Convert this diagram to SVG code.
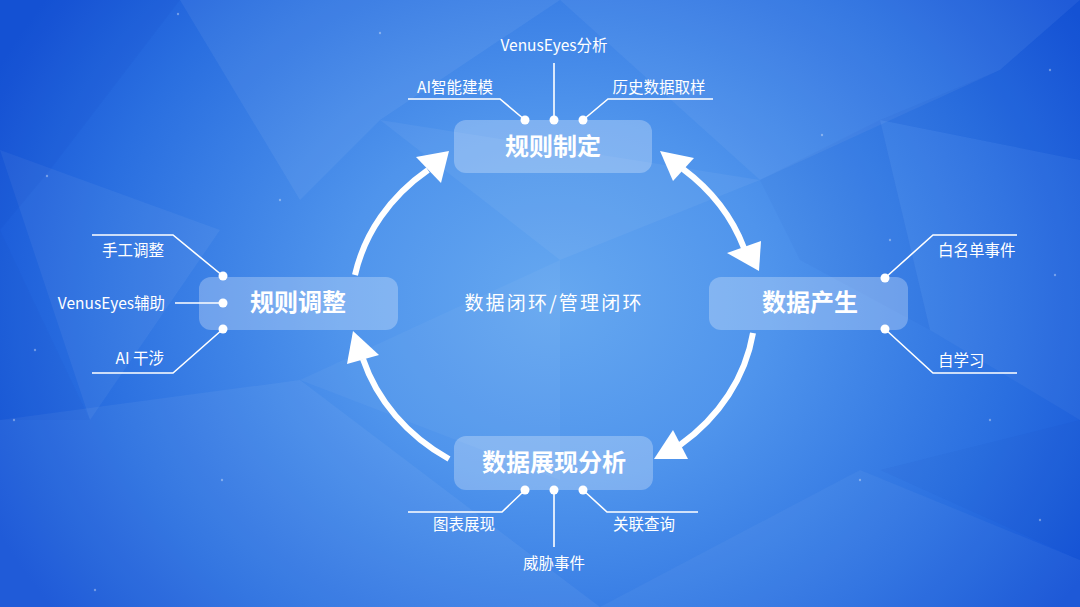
<svg xmlns="http://www.w3.org/2000/svg" width="1080" height="607" viewBox="0 0 1080 607">
<defs>
<radialGradient id="bg" cx="555" cy="300" r="620" gradientUnits="userSpaceOnUse" gradientTransform="translate(555 300) scale(1 0.85) translate(-555 -300)">
<stop offset="0" stop-color="#66a8f0"/>
<stop offset="0.35" stop-color="#4f94ec"/>
<stop offset="0.75" stop-color="#2a6fe0"/>
<stop offset="1" stop-color="#1553d6"/>
</radialGradient>
<style>
.node rect{fill:#ffffff;fill-opacity:0.27}
.title{font-family:"Noto Sans CJK SC","Noto Sans",sans-serif;font-size:24px;font-weight:bold;fill:#ffffff;text-anchor:middle}
.lbl{font-family:"Noto Sans CJK SC","Noto Sans",sans-serif;font-size:15.5px;fill:#ffffff}
.arc{fill:none;stroke:#ffffff;stroke-width:6}
.head{fill:#ffffff}
.lead{fill:none;stroke:#ffffff;stroke-width:1.6}
.dot{fill:#ffffff}
.poly{fill:#ffffff}
.dk{fill:#0a3fb8}
.sp{fill:#ffffff;fill-opacity:0.35}
</style>
</defs>

<g id="background">
<rect x="0" y="0" width="1080" height="607" fill="url(#bg)"/>
<polygon class="poly" fill-opacity="0.06" points="180,0 560,0 380,120 300,200"/>
<polygon class="poly" fill-opacity="0.05" points="560,0 1080,0 1000,70 760,180"/>
<polygon class="poly" fill-opacity="0.05" points="0,420 300,380 600,607 0,607"/>
<polygon class="poly" fill-opacity="0.04" points="600,607 860,470 1080,560 1080,607"/>
<polygon class="poly" fill-opacity="0.05" points="0,150 220,230 90,420"/>
<polygon class="poly" fill-opacity="0.04" points="880,120 1080,160 1080,420 930,330"/>
<polygon class="poly" fill-opacity="0.05" points="380,120 760,180 560,260"/>
<polygon class="poly" fill-opacity="0.04" points="300,380 560,260 560,480"/>
<polygon class="dk" fill-opacity="0.07" points="0,0 180,0 50,170 0,230"/>
<polygon class="dk" fill-opacity="0.06" points="1000,70 1080,0 1080,160 880,120"/>
<polygon class="dk" fill-opacity="0.05" points="880,470 1080,420 1080,560"/>
<polygon class="dk" fill-opacity="0.05" points="0,230 90,420 0,420"/>
<polygon class="dk" fill-opacity="0.04" points="760,180 880,120 930,330 800,260"/>
<circle class="sp" cx="178" cy="14" r="1.2"/>
<circle class="sp" cx="380" cy="33" r="1.2"/>
<circle class="sp" cx="47" cy="176" r="1.2"/>
<circle class="sp" cx="280" cy="200" r="1.2"/>
<circle class="sp" cx="335" cy="300" r="1.2"/>
<circle class="sp" cx="1050" cy="70" r="1.2"/>
<circle class="sp" cx="1055" cy="275" r="1.2"/>
<circle class="sp" cx="822" cy="135" r="1.2"/>
<circle class="sp" cx="990" cy="420" r="1.2"/>
<circle class="sp" cx="14" cy="420" r="1.2"/>
<circle class="sp" cx="95" cy="590" r="1.2"/>
<circle class="sp" cx="222" cy="480" r="1.2"/>
<circle class="sp" cx="860" cy="480" r="1.2"/>
<circle class="sp" cx="1040" cy="520" r="1.2"/>
<circle class="sp" cx="35" cy="350" r="1.2"/>
<circle class="sp" cx="890" cy="240" r="1.2"/>
</g>

<g id="connectors">
<path class="arc" d="M 355 275 A 203 178 0 0 1 428 170"/>
<polygon class="head" points="449,151 416,157 441,183"/>
<path class="arc" d="M 683 169 A 203 178 0 0 1 744 248"/>
<polygon class="head" points="660,151 694,158 673,181"/>
<polygon class="head" points="759,271 727,253 761,241"/>
<path class="arc" d="M 753 333 A 203 178 0 0 1 680 445"/>
<polygon class="head" points="654,459 688,459 673,430"/>
<path class="arc" d="M 449 459 A 203 178 0 0 1 363 359"/>
<polygon class="head" points="353,331 347,364 379,355"/>

<polyline class="lead" points="525,120 500,99 408,99"/>
<polyline class="lead" points="554,120 554,63"/>
<polyline class="lead" points="583,120 608,99 713,99"/>
<polyline class="lead" points="223,276 173,235 92,235"/>
<polyline class="lead" points="223,303 175,303"/>
<polyline class="lead" points="223,329 173,373 92,373"/>
<polyline class="lead" points="885,278 933,235 1017,235"/>
<polyline class="lead" points="885,329 933,373 1017,373"/>
<polyline class="lead" points="525,490 502,512 408,512"/>
<polyline class="lead" points="554,490 554,547"/>
<polyline class="lead" points="583,490 607,512 698,512"/>
<circle class="dot" cx="525" cy="120" r="4.5"/>
<circle class="dot" cx="554" cy="120" r="4.5"/>
<circle class="dot" cx="583" cy="120" r="4.5"/>
<circle class="dot" cx="223" cy="276" r="4.5"/>
<circle class="dot" cx="223" cy="303" r="4.5"/>
<circle class="dot" cx="223" cy="329" r="4.5"/>
<circle class="dot" cx="885" cy="278" r="4.5"/>
<circle class="dot" cx="885" cy="329" r="4.5"/>
<circle class="dot" cx="525" cy="490" r="4.5"/>
<circle class="dot" cx="554" cy="490" r="4.5"/>
<circle class="dot" cx="583" cy="490" r="4.5"/>
</g>

<g id="node-rule-define" class="node">
<rect x="454" y="120" width="198" height="53" rx="12"/>
<text class="title" x="553" y="155">规则制定</text>
</g>
<g id="node-rule-adjust" class="node">
<rect x="199" y="277" width="199" height="53" rx="12"/>
<text class="title" x="298" y="311">规则调整</text>
</g>
<g id="node-data-produce" class="node">
<rect x="709" y="277" width="199" height="53" rx="12"/>
<text class="title" x="810" y="311">数据产生</text>
</g>
<g id="node-data-analysis" class="node">
<rect x="454" y="436" width="199" height="54" rx="12"/>
<text class="title" x="554" y="471">数据展现分析</text>
</g>

<g id="center-label">
<text x="554" y="310" style="font-family:'Noto Sans CJK SC','Noto Sans',sans-serif;font-size:19px;fill:#ffffff;text-anchor:middle;letter-spacing:2.2px">数据闭环/管理闭环</text>
</g>

<g id="label-venus-analysis"><text class="lbl" x="554" y="51" text-anchor="middle">VenusEyes分析</text></g>
<g id="label-ai-model"><text class="lbl" x="455" y="93" text-anchor="middle">AI智能建模</text></g>
<g id="label-history"><text class="lbl" x="659" y="93" text-anchor="middle">历史数据取样</text></g>
<g id="label-manual"><text class="lbl" x="164" y="256" text-anchor="end">手工调整</text></g>
<g id="label-venus-assist"><text class="lbl" x="165" y="309" text-anchor="end">VenusEyes辅助</text></g>
<g id="label-ai-intervene"><text class="lbl" x="164" y="364" text-anchor="end">AI 干涉</text></g>
<g id="label-whitelist"><text class="lbl" x="938" y="256">白名单事件</text></g>
<g id="label-selflearn"><text class="lbl" x="938" y="366">自学习</text></g>
<g id="label-chart"><text class="lbl" x="464" y="530" text-anchor="middle">图表展现</text></g>
<g id="label-threat"><text class="lbl" x="554" y="569" text-anchor="middle">威胁事件</text></g>
<g id="label-correlate"><text class="lbl" x="644" y="530" text-anchor="middle">关联查询</text></g>
</svg>
